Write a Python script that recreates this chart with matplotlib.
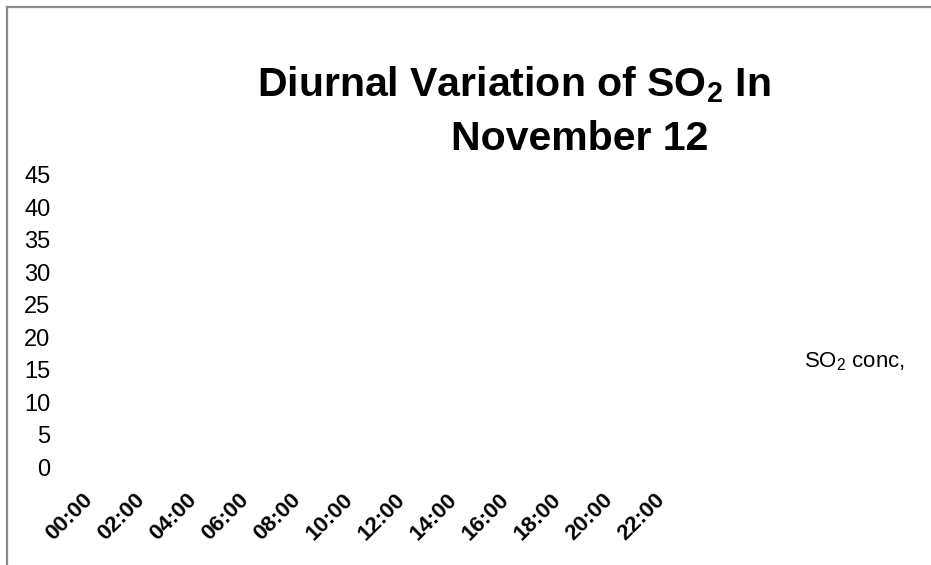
import matplotlib
matplotlib.use("Agg")
import matplotlib.pyplot as plt
from matplotlib.lines import Line2D
import numpy as np

# hourly categories (labels every 2 h), no readings plotted in the source chart
hours = list(range(24))
hour_labels = ["%02d:00" % h for h in hours]
so2_conc = [np.nan] * 24
y_ticks = [0, 5, 10, 15, 20, 25, 30, 35, 40, 45]

plt.rcParams['mathtext.default'] = 'regular'
fam = ['Liberation Sans', 'DejaVu Sans']

fig = plt.figure(figsize=(9.31, 5.65), dpi=100)
ax = fig.add_axes([77 / 931, (565 - 467) / 565, 624 / 931, 292 / 565])

ax.plot(hours, so2_conc, color='#4472C4', linewidth=2, label='SO$_2$ conc,')

ax.set_xlim(-0.5, 23.5)
ax.set_ylim(0, 45)
ax.set_xticks(hours[::2])
ax.set_xticklabels(hour_labels[::2], rotation=45, ha='right', va='center',
                   rotation_mode='anchor', fontsize=16, fontweight='bold',
                   family=fam)
ax.set_yticks(y_ticks)
ax.set_yticklabels([str(v) for v in y_ticks], fontsize=17, family=fam)
ax.tick_params(axis='both', length=0)
ax.tick_params(axis='y', pad=19)
ax.tick_params(axis='x', pad=21.5)
for s in ax.spines.values():
    s.set_visible(False)

# legend: text only, no visible sample
leg = fig.legend(loc='center left', bbox_to_anchor=(784 / 931, 1 - 362 / 565),
                 frameon=False, handlelength=0, handletextpad=0,
                 prop={'family': fam, 'size': 16})
for h in leg.legend_handles:
    h.set_visible(False)

# title, two lines as in the original
fig.text(514 / 931, 1 - 96 / 565, 'Diurnal Variation of SO$_2$ In',
         fontsize=29.5, fontweight='bold', ha='center', va='baseline', family=fam)
fig.text(580 / 931, 1 - 150 / 565, 'November 12',
         fontsize=29.5, fontweight='bold', ha='center', va='baseline', family=fam)

# grey frame lines (top and left) of the chart area
fig.add_artist(Line2D([7 / 931, 1], [1 - 7 / 565, 1 - 7 / 565],
                      color='#8c8c8c', linewidth=1.6))
fig.add_artist(Line2D([7 / 931, 7 / 931], [0, 1 - 7 / 565],
                      color='#8c8c8c', linewidth=1.6))

fig.savefig('out.png', dpi=100)
